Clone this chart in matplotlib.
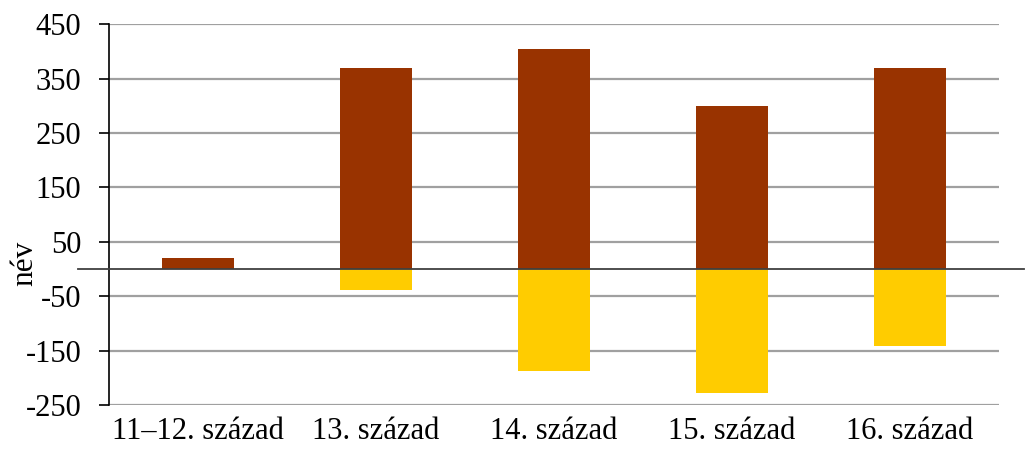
import numpy as np
import matplotlib.pyplot as plt

categories = ['11–12. század', '13. század', '14. század', '15. század', '16. század']
positive = [20, 370, 405, 300, 370]
negative = [0, -39, -188, -228, -141]
yticks = [-250, -150, -50, 50, 150, 250, 350, 450]

plt.rcParams['font.family'] = ['Liberation Serif', 'DejaVu Serif']

fig = plt.figure(figsize=(10.34, 4.51), dpi=100)
ax = fig.add_axes([0.1054, 0.102, 0.8607, 0.844])

pos = np.arange(len(categories))
width = 0.4

ax.bar(pos, positive, width, color='#993300', zorder=3)
ax.bar(pos, negative, width, color='#FFCC00', zorder=3)

ax.set_xlim(-0.5, len(categories) - 0.5)
ax.set_ylim(-250, 450)
ax.set_yticks(yticks)
ax.set_yticklabels([str(t) for t in yticks])
ax.set_xticks(pos)
ax.set_xticklabels(categories)

# gridlines and axes
ax.yaxis.grid(True, color='#a0a0a0', linewidth=1.6, zorder=0)
ax.set_axisbelow(True)
for s in ['top', 'right', 'bottom']:
    ax.spines[s].set_visible(False)
ax.spines['left'].set_linewidth(1.2)
ax.tick_params(axis='y', length=7, width=1.2, labelsize=22, pad=13)
ax.tick_params(axis='x', length=0, labelsize=22, pad=9)

# zero line runs past the axes on both sides
ax.axhline(0, xmin=-0.035, xmax=1.028, color='#404040', linewidth=1.3,
           clip_on=False, zorder=4)

ax.set_ylabel('név', fontsize=22.5)
ax.yaxis.set_label_coords(-0.078, 0.373)

fig.savefig('out.png', dpi=100)
